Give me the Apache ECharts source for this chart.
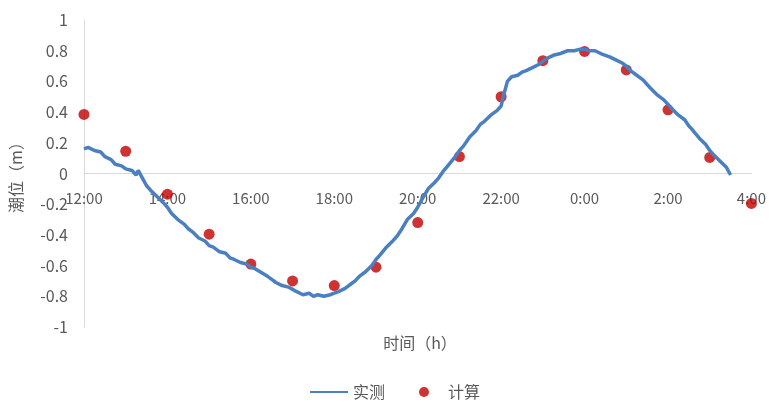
<!DOCTYPE html>
<html><head><meta charset="utf-8">
<script src="https://cdn.jsdelivr.net/npm/echarts@6/dist/echarts.min.js"></script>
<style>html,body{margin:0;padding:0;background:#fff}#c{width:769px;height:407px}</style>
</head><body><div id="c"></div>
<script>
// hours elapsed since 12:00
const measuredHours = [0,0.1,0.25,0.4,0.5,0.65,0.75,0.9,1.0,1.15,1.25,1.3,1.4,1.5,1.6,1.75,1.9,2.0,2.1,2.25,2.4,2.5,2.6,2.75,2.9,3.0,3.1,3.25,3.4,3.5,3.6,3.75,3.9,4.0,4.1,4.25,4.4,4.5,4.6,4.75,4.9,5.0,5.1,5.25,5.4,5.5,5.6,5.75,5.9,6.0,6.1,6.25,6.4,6.5,6.6,6.75,6.9,7.0,7.1,7.25,7.4,7.5,7.6,7.75,7.9,8.0,8.1,8.25,8.4,8.5,8.6,8.75,8.9,9.0,9.1,9.25,9.4,9.5,9.6,9.75,9.9,10.0,10.05,10.15,10.25,10.4,10.5,10.6,10.75,10.9,11.0,11.1,11.25,11.4,11.5,11.6,11.75,11.9,12.0,12.1,12.25,12.4,12.5,12.6,12.75,12.9,13.0,13.1,13.25,13.4,13.5,13.6,13.75,13.9,14.0,14.1,14.25,14.4,14.5,14.6,14.75,14.9,15.0,15.1,15.25,15.4,15.5];
const measured = [0.16,0.17,0.15,0.14,0.11,0.09,0.06,0.05,0.03,0.02,-0.01,0.02,-0.03,-0.08,-0.11,-0.15,-0.19,-0.22,-0.26,-0.30,-0.33,-0.36,-0.38,-0.42,-0.44,-0.47,-0.48,-0.51,-0.52,-0.55,-0.56,-0.58,-0.59,-0.61,-0.62,-0.645,-0.67,-0.69,-0.71,-0.73,-0.74,-0.755,-0.77,-0.79,-0.78,-0.80,-0.79,-0.80,-0.79,-0.78,-0.77,-0.75,-0.72,-0.70,-0.67,-0.64,-0.60,-0.56,-0.53,-0.48,-0.44,-0.41,-0.37,-0.30,-0.26,-0.22,-0.17,-0.10,-0.06,-0.03,0.01,0.06,0.11,0.15,0.18,0.24,0.28,0.32,0.34,0.38,0.41,0.44,0.50,0.60,0.63,0.64,0.66,0.67,0.69,0.71,0.73,0.75,0.77,0.78,0.79,0.80,0.80,0.81,0.81,0.80,0.80,0.78,0.77,0.76,0.74,0.72,0.70,0.67,0.64,0.61,0.58,0.55,0.51,0.48,0.45,0.42,0.38,0.35,0.31,0.28,0.23,0.19,0.15,0.12,0.08,0.04,-0.01];
const calcHours = [0,1,2,3,4,5,6,7,8,9,10,11,12,13,14,15,16];
const calculated = [0.385,0.145,-0.135,-0.395,-0.59,-0.70,-0.73,-0.61,-0.32,0.11,0.50,0.735,0.795,0.675,0.415,0.105,-0.195];
const yMin = -1, yMax = 1, yStep = 0.2;
const xMin = 0, xMax = 16, xStep = 2, startClock = 12;
const seriesNames = ['实测','计算'];
const xTitle = '时间（h）', yTitle = '潮位（m）';

const font = "'Noto Sans CJK SC','Liberation Sans',sans-serif";
const gridTop = 20, gridBottom = 80, H = 407;
const gridH = H - gridTop - gridBottom;
// shift the x axis (line + labels) up to the y=0 position
const zeroOffset = -gridH * (0 - yMin) / (yMax - yMin);
const chart = echarts.init(document.getElementById('c'));
chart.setOption({
  animation:false,
  textStyle:{fontFamily:font},
  grid:{left:83,right:15,top:gridTop,bottom:gridBottom,containLabel:false},
  xAxis:{type:'value',min:xMin,max:xMax,interval:xStep,offset:zeroOffset,
    axisLine:{onZero:false,lineStyle:{color:'#d9d9d9',width:1}},
    axisTick:{show:false},splitLine:{show:false},
    axisLabel:{color:'#595959',fontSize:15,margin:17,fontFamily:font,
      formatter:v=>((startClock+v)%24)+':00'}},
  yAxis:{type:'value',min:yMin,max:yMax,interval:yStep,
    name:yTitle,nameLocation:'middle',nameGap:60,
    nameTextStyle:{color:'#595959',fontSize:16,fontFamily:font},
    axisLine:{show:true,lineStyle:{color:'#d9d9d9',width:1}},
    axisTick:{show:false},splitLine:{show:false},
    axisLabel:{color:'#595959',fontSize:16,margin:16,fontFamily:font,
      formatter:v=>String(Math.round(v*10)/10)}},
  graphic:[{type:'text',x:420,y:343,style:{text:xTitle,fill:'#595959',font:"16px "+font,textAlign:'center',textVerticalAlign:'middle'}}],
  legend:{bottom:2,left:305,itemGap:34,itemWidth:38,itemHeight:10,
    textStyle:{color:'#595959',fontSize:16,fontFamily:font},
    data:[{name:seriesNames[0],icon:'path://M0,4 L38,4 L38,6 L0,6 Z'},{name:seriesNames[1],icon:'circle'}]},
  series:[
    {name:seriesNames[0],type:'line',showSymbol:false,symbol:'none',
      data:measuredHours.map((h,i)=>[h,measured[i]]),
      lineStyle:{color:'#4a7fc1',width:3.5},itemStyle:{color:'#4a7fc1'}},
    {name:seriesNames[1],type:'scatter',symbolSize:11,
      data:calcHours.map((h,i)=>[h,calculated[i]]),
      itemStyle:{color:'#c00000'}}
  ]
});
</script></body></html>
